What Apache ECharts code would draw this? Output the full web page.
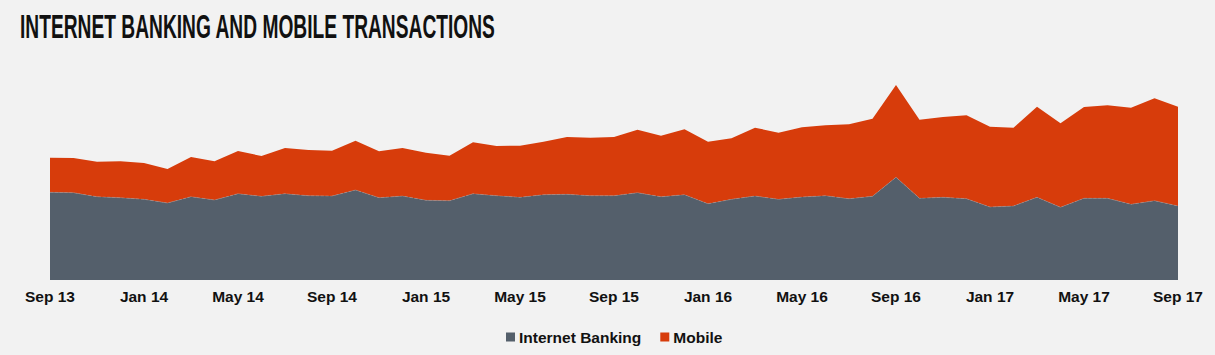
<!DOCTYPE html>
<html>
<head>
<meta charset="utf-8">
<script src="https://cdn.jsdelivr.net/npm/echarts@6/dist/echarts.min.js"></script>
<style>
html,body{margin:0;padding:0;background:#f2f2f2;}
#chart{width:1215px;height:355px;}
</style>
</head>
<body>
<div id="chart"></div>
<script>
const titleText = 'INTERNET BANKING AND MOBILE TRANSACTIONS';
const seriesNames = ['Internet Banking', 'Mobile'];
const monthNames = ['Jan','Feb','Mar','Apr','May','Jun','Jul','Aug','Sep','Oct','Nov','Dec'];
// Sep 13 .. Sep 17 (monthly)
const categories = [
  'Sep 13','Oct 13','Nov 13','Dec 13',
  'Jan 14','Feb 14','Mar 14','Apr 14','May 14','Jun 14','Jul 14','Aug 14','Sep 14','Oct 14','Nov 14','Dec 14',
  'Jan 15','Feb 15','Mar 15','Apr 15','May 15','Jun 15','Jul 15','Aug 15','Sep 15','Oct 15','Nov 15','Dec 15',
  'Jan 16','Feb 16','Mar 16','Apr 16','May 16','Jun 16','Jul 16','Aug 16','Sep 16','Oct 16','Nov 16','Dec 16',
  'Jan 17','Feb 17','Mar 17','Apr 17','May 17','Jun 17','Jul 17','Aug 17','Sep 17'
];
const internetBanking = [
  87.7, 87.3, 83.3, 82.3,
  80.7, 77.0, 83.3, 80.0, 86.3, 83.7, 86.3, 84.3, 84.0, 90.0, 82.3, 84.0,
  79.7, 79.3, 86.3, 84.3, 82.7, 85.3, 85.7, 84.3, 84.3, 87.3, 83.3, 85.3,
  76.3, 80.7, 84.0, 80.7, 83.0, 84.3, 81.3, 83.7, 102.7, 81.7, 82.7, 81.3,
  73.0, 74.0, 82.7, 72.7, 81.7, 81.7, 75.7, 79.3, 74.0
];
const mobile = [
  34.6, 34.7, 35.0, 36.4,
  36.3, 34.0, 39.7, 38.7, 42.7, 40.3, 45.7, 45.7, 45.3, 49.3, 46.4, 48.0,
  47.6, 45.0, 51.4, 49.7, 51.6, 53.0, 57.3, 58.0, 58.7, 63.0, 61.0, 65.4,
  62.0, 61.0, 68.3, 66.6, 69.7, 70.4, 74.4, 77.6, 92.3, 78.6, 80.3, 83.4,
  80.3, 78.3, 90.6, 84.0, 91.3, 93.0, 96.6, 102.4, 99.3
];

const colGray = '#545f6b';
const colRed = '#d73c0b';

// fit the condensed title to its width
const titleFont = 'bold 33px "Liberation Sans Narrow", "Liberation Sans", Arial, sans-serif';
const cv = document.createElement('canvas').getContext('2d');
cv.font = titleFont;
const tw = cv.measureText(titleText).width;
const titleScale = 476 / tw;

const chart = echarts.init(document.getElementById('chart'), null, {renderer: 'svg'});
chart.setOption({
  backgroundColor: '#f2f2f2',
  animation: false,
  graphic: [{
    type: 'text',
    left: 20,
    top: 10,
    scaleX: titleScale,
    scaleY: 1,
    originX: 0,
    originY: 0,
    style: {
      text: titleText,
      font: titleFont,
      fill: '#111111'
    }
  }],
  legend: {
    data: seriesNames,
    left: 506,
    top: 329,
    padding: 0,
    itemWidth: 9,
    itemHeight: 9,
    itemGap: 19,
    icon: 'rect',
    textStyle: {
      fontFamily: 'Arial, "Liberation Sans", sans-serif',
      fontWeight: 'bold',
      fontSize: 15.5,
      color: '#111111',
      padding: [0, 0, 0, -1]
    }
  },
  grid: {left: 50, right: 37, top: 80, bottom: 75},
  xAxis: {
    type: 'category',
    data: categories,
    boundaryGap: false,
    axisLine: {show: false},
    axisTick: {show: false},
    splitLine: {show: false},
    axisLabel: {
      interval: 3,
      margin: 8,
      fontFamily: 'Arial, "Liberation Sans", sans-serif',
      fontWeight: 'bold',
      fontSize: 15.5,
      color: '#111111'
    }
  },
  yAxis: {
    type: 'value',
    min: 0,
    max: 200,
    show: false,
    splitLine: {show: false}
  },
  series: [
    {
      name: seriesNames[0],
      type: 'line',
      stack: 'total',
      data: internetBanking,
      symbol: 'none',
      itemStyle: {color: colGray},
      lineStyle: {width: 0.8, type: 'dashed', color: 'rgba(190,150,140,0.55)'},
      areaStyle: {color: colGray, opacity: 1},
      z: 3
    },
    {
      name: seriesNames[1],
      type: 'line',
      stack: 'total',
      data: mobile,
      symbol: 'none',
      itemStyle: {color: colRed},
      lineStyle: {width: 0},
      areaStyle: {color: colRed, opacity: 1},
      z: 2
    }
  ]
});
</script>
</body>
</html>
